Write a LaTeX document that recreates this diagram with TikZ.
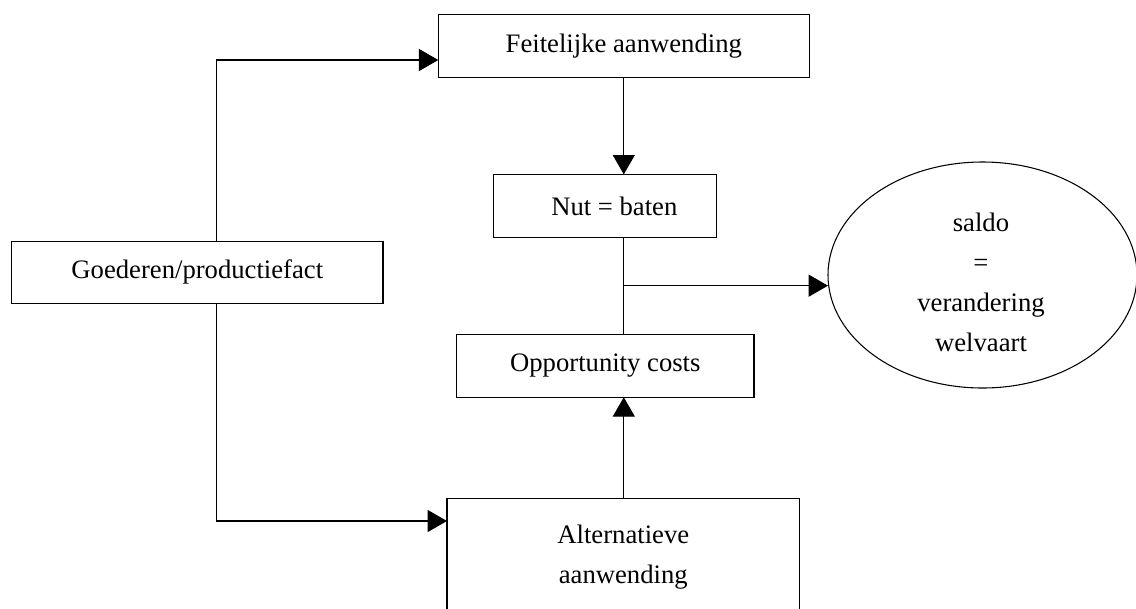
\documentclass[tikz,border=0pt]{standalone}
\usepackage{fontspec}
\setmainfont{Liberation Serif}
\usetikzlibrary{arrows.meta,shapes.geometric,calc}

\tikzset{
	blok/.style={draw, line width=0.8pt, inner sep=0pt, outer sep=0pt, align=center},
	pijl/.style={-{Triangle[length=14.5pt,width=16.5pt]}, line width=0.8pt},
	lijn/.style={line width=0.8pt}
}

\begin{document}
\begin{tikzpicture}[line cap=butt,line join=miter,x=0.75pt,y=-0.75pt,font=\fontsize{20}{30}\selectfont]
					\useasboundingbox (0,0) rectangle (1136,608);
					\node[blok, minimum width=278.25pt, minimum height=47pt] (feit) at (623.8,46) {Feitelijke aanwending};
					\node[blok, minimum width=167.5pt, minimum height=47.5pt] (nut) at (605,206) {\hspace{14pt}Nut = baten};
					\node[blok, minimum width=278.5pt, minimum height=46.7pt] (goed) at (197.3,272.2) {Goederen/productiefact};
					\node[blok, minimum width=223pt, minimum height=47.2pt] (opp) at (605.3,365.8) {Opportunity costs};
					\node[blok, minimum width=264.5pt, minimum height=88pt] (alt) at (623.3,557) {Alternatieve\\aanwending};
					\node[blok, ellipse, minimum width=231.75pt, minimum height=169.5pt] (saldo) at (982.5,275) {};
					\node[align=center, inner sep=0pt] (saldotekst) at (981,282.5) {saldo\\=\\verandering\\welvaart};

					% aftakkingen
					\coordinate (boven) at ($(goed.north)+(19,0)$);
					\coordinate (onder) at ($(goed.south)+(19,0)$);
					\coordinate (knoop) at ($(feit.south |- nut.south)+(0,48)$);

					\draw[pijl] (boven) |- ($(feit.west)+(0,14)$);
					\draw[pijl] (onder) |- ($(alt.west)+(0,-36)$);
					\draw[pijl] (feit.south) -- (feit.south |- nut.north);
					\draw[lijn] (feit.south |- nut.south) -- (feit.south |- opp.north);
					\draw[pijl] (feit.south |- alt.north) -- (feit.south |- opp.south);
					\draw[pijl] (knoop) -- (knoop -| saldo.west);
				\end{tikzpicture}
\end{document}
